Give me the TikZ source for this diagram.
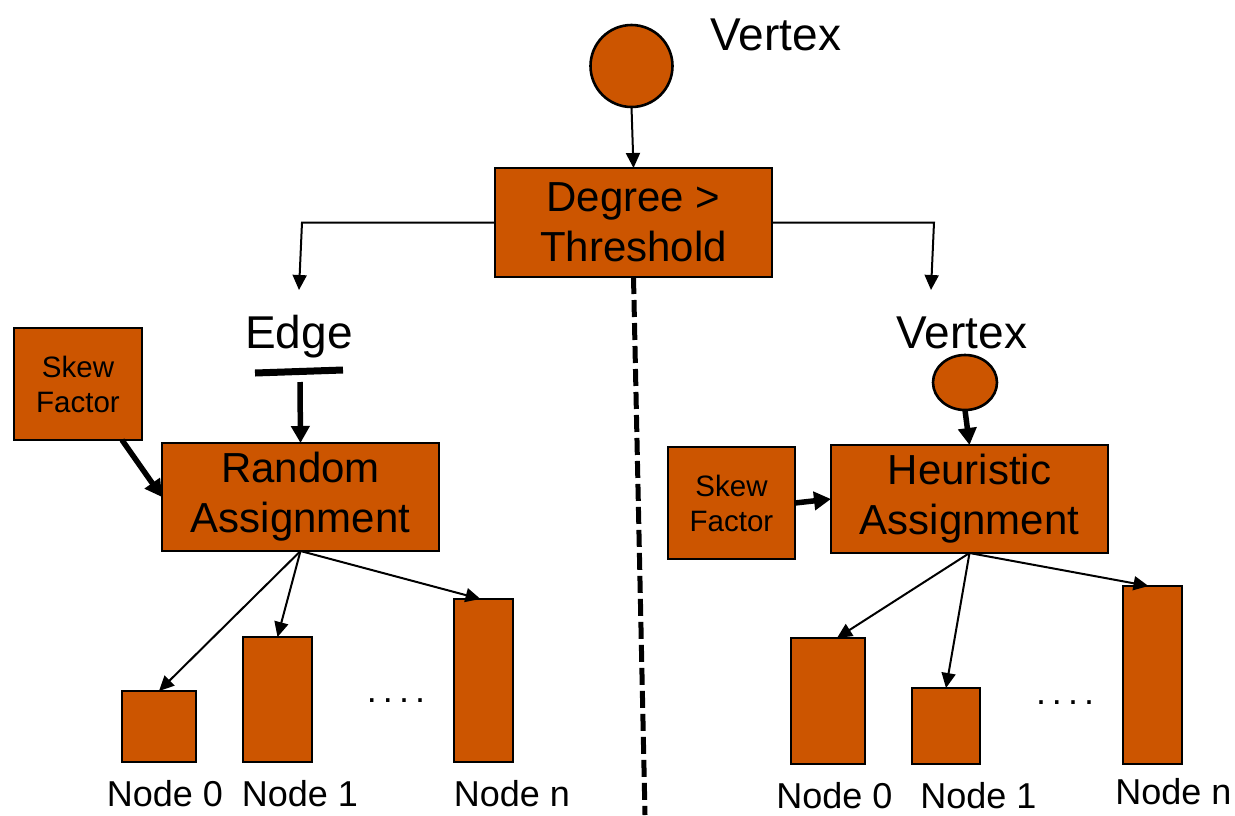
\documentclass[tikz,border=0pt]{standalone}
\usepackage{fontspec}
\setmainfont{Liberation Sans}
\usetikzlibrary{arrows.meta,shapes.geometric}
\definecolor{burnt}{RGB}{204,85,0}

\begin{document}
\begin{tikzpicture}[x=1pt,y=-1pt,
  box/.style={draw=black, fill=burnt, line width=2.6pt, inner sep=0pt, outer sep=0pt, align=center},
  bigtext/.style={font=\fontsize{42}{50}\selectfont},
  hugetext/.style={font=\fontsize{46}{55}\selectfont},
  smalltext/.style={font=\fontsize{29.5}{35}\selectfont},
  labeltext/.style={font=\fontsize{36}{43}\selectfont, anchor=base, inner sep=0pt},
  link/.style={line width=2pt, -{Triangle[length=15pt,width=14pt]}},
  heavylink/.style={line width=5.5pt, -{Triangle[length=17pt,width=18pt]}},
  splitline/.style={line width=5pt, dash pattern=on 17pt off 6pt},
]
\useasboundingbox (0,0) rectangle (1235,815);

% top vertex and threshold test
\node[box, circle, minimum size=82pt] (v) at (631.5,66) {};
\node[hugetext, anchor=base] (vlabel) at (776,50) {Vertex};
\node[box, bigtext, minimum width=277pt, minimum height=109pt] (deg) at (633.5,222.5) {Degree >\\Threshold};
\draw[link] (v.south) -- (deg.north);

% branches
\coordinate (lturn) at (302,222.5);
\coordinate (lend) at (299,290);
\coordinate (rturn) at (934,222.5);
\coordinate (rend) at (931,290);
\draw[link] (deg.west) -- (lturn) -- (lend);
\draw[link] (deg.east) -- (rturn) -- (rend);

% dividing line
\coordinate (splitend) at (645,815);
\draw[splitline] (deg.south) -- (splitend);

% ---- left: edge partitioning ----
\node[hugetext, anchor=base] (elabel) at (299,348) {Edge};
\coordinate (barl) at (255,373);
\coordinate (barr) at (343,370);
\draw[line width=7pt] (barl) -- (barr);
\coordinate (edgefoot) at (300,382);
\node[box, bigtext, minimum width=277pt, minimum height=108pt] (rand) at (300.5,497) {Random\\Assignment};
\node[box, smalltext, minimum width=128pt, minimum height=112pt] (skl) at (78,384) {Skew\\Factor};
\draw[heavylink] (edgefoot) -- (rand.north);
\draw[heavylink] ([xshift=44pt]skl.south) -- (rand.west);

\node[box, minimum width=74pt, minimum height=71pt] (n0l) at (159,726.5) {};
\node[box, minimum width=69pt, minimum height=125pt] (n1l) at (277.5,699.5) {};
\node[box, minimum width=59pt, minimum height=163pt] (nnl) at (483.5,680.5) {};
\draw[link] (rand.south) -- (n0l.north);
\draw[link] (rand.south) -- (n1l.north);
\draw[link] (rand.south) -- ([xshift=-3pt]nnl.north);
\node[labeltext] (dotsl) at (396,702) {.\kern6pt.\kern6pt.\kern6pt.};
\node[labeltext] (t0l) at (165,806) {Node 0};
\node[labeltext] (t1l) at (300,806) {Node 1};
\node[labeltext] (tnl) at (512,806) {Node n};

% ---- right: vertex partitioning ----
\node[hugetext, anchor=base] (vlabel2) at (962,348) {Vertex};
\node[box, ellipse, minimum width=64pt, minimum height=55pt] (vs) at (965,382.5) {};
\node[box, bigtext, minimum width=277pt, minimum height=108pt] (heur) at (969.5,499) {Heuristic\\Assignment};
\node[box, smalltext, minimum width=127pt, minimum height=112pt] (skr) at (731.5,503) {Skew\\Factor};
\draw[heavylink] (vs.south) -- (heur.north);
\draw[heavylink] (skr.east) -- (heur.west);

\node[box, minimum width=74pt, minimum height=126pt] (n0r) at (828,701) {};
\node[box, minimum width=68pt, minimum height=76pt] (n1r) at (946,726) {};
\node[box, minimum width=59pt, minimum height=178pt] (nnr) at (1152.5,675) {};
\draw[link] (heur.south) -- ([xshift=9pt]n0r.north);
\draw[link] (heur.south) -- (n1r.north);
\draw[link] (heur.south) -- ([xshift=-4pt]nnr.north);
\node[labeltext] (dotsr) at (1065,704) {.\kern6pt.\kern6pt.\kern6pt.};
\node[labeltext] (t0r) at (834.5,808) {Node 0};
\node[labeltext] (t1r) at (978.5,808) {Node 1};
\node[labeltext] (tnr) at (1173.5,804) {Node n};
\end{tikzpicture}
\end{document}
